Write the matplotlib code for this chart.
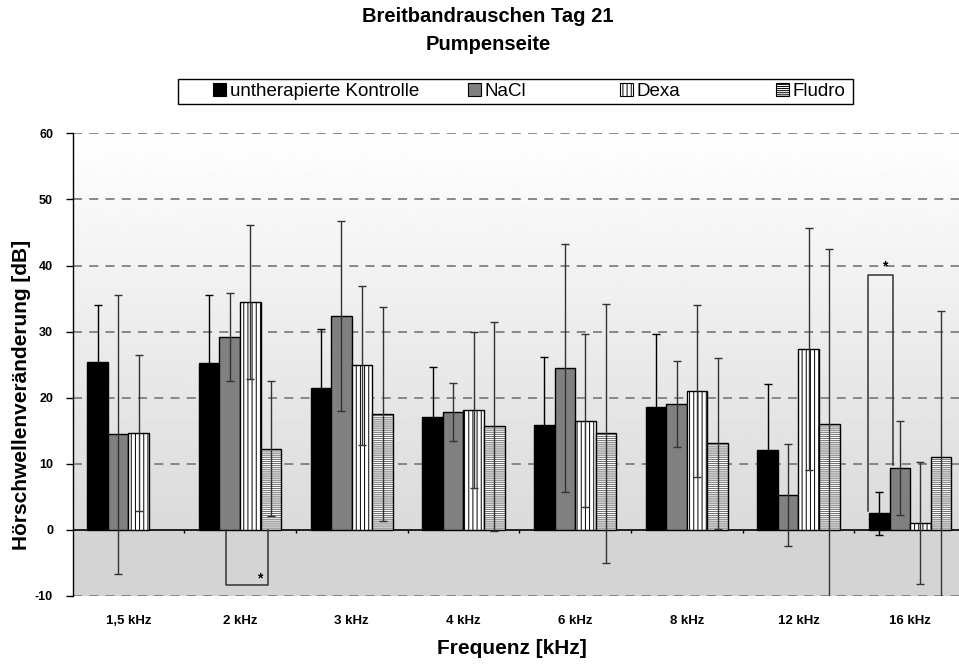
import numpy as np
import matplotlib
matplotlib.use("Agg")
import matplotlib.pyplot as plt
from matplotlib.patches import Patch, Rectangle

plt.rcParams['font.family'] = ['Liberation Sans', 'DejaVu Sans']
plt.rcParams['hatch.linewidth'] = 0.7
plt.rcParams['axes.unicode_minus'] = False

# Daten
categories = ["1,5 kHz", "2 kHz", "3 kHz", "4 kHz", "6 kHz", "8 kHz", "12 kHz", "16 kHz"]
series_names = ["untherapierte Kontrolle", "NaCl", "Dexa", "Fludro"]

kontrolle = [25.4, 25.2, 21.5, 17.1, 15.8, 18.6, 12.1, 2.5]
kontrolle_sd = [8.6, 10.4, 8.9, 7.6, 10.4, 11.0, 10.0, 3.3]
nacl = [14.5, 29.2, 32.4, 17.8, 24.5, 19.0, 5.25, 9.3]
nacl_sd = [21.1, 6.7, 14.4, 4.4, 18.7, 6.5, 7.75, 7.1]
dexa = [14.6, 34.5, 24.9, 18.2, 16.5, 21.0, 27.4, 1.0]
dexa_sd = [11.8, 11.7, 12.0, 11.8, 13.1, 13.0, 18.3, 9.25]
fludro = [np.nan, 12.3, 17.5, 15.7, 14.6, 13.1, 16.0, 11.1]
fludro_sd = [np.nan, 10.2, 16.2, 15.8, 19.6, 12.9, 26.5, 22.0]

# Signifikanz-Klammern: (Gruppe, x-Versatz links, x-Versatz rechts, y links, y rechts, y Klammer)
brackets = [(1, -0.127, 0.249, 0.0, 0.0, -8.4),
            (7, -0.373, -0.155, 2.9, 9.8, 38.5)]

values = [kontrolle, nacl, dexa, fludro]
sds = [kontrolle_sd, nacl_sd, dexa_sd, fludro_sd]
faces = ["black", "#808080", "white", "white"]
hatches = [None, None, "||||", "--------"]
hatch_cols = ["black", "black", "black", "#6a6a6a"]
err_cols = ["black", "#333333", "#333333", "#333333"]

fig = plt.figure(figsize=(9.59, 6.64), dpi=100)
ax = fig.add_axes([72.5/959, 68/664, (966-72.5)/959, (596-133.3)/664])

x = np.arange(len(categories))
w = 0.184

# Hintergrund-Verlauf
grad = np.linspace(0.998, 0.855, 256).reshape(-1, 1)
ax.imshow(grad, extent=(-0.5, 7.5, 0, 60), aspect='auto', cmap='gray',
          vmin=0, vmax=1, zorder=0)
ax.axhspan(-10, 0, color='#d4d4d4', zorder=0, lw=0)

for i in range(4):
    pos = x + (i - 1.5) * w
    # Fuellung + Schraffur, dann schwarzer Rand
    ax.bar(pos, values[i], width=w, color=faces[i], edgecolor=hatch_cols[i],
           linewidth=0, hatch=hatches[i], zorder=3)
    ax.bar(pos, values[i], width=w, color='none', edgecolor='black',
           linewidth=1, zorder=3)
    ax.errorbar(pos, values[i], yerr=sds[i], fmt='none', ecolor=err_cols[i],
                elinewidth=1, capsize=3, capthick=1, zorder=4)

for g, dl, dr, yl, yr, yb in brackets:
    ax.plot([g + dl, g + dl, g + dr, g + dr], [yl, yb, yb, yr],
            color='#333333', lw=1.1, zorder=5)
    ax.text(g + dr - 0.07, yb + (1.3 if yb > 0 else 1.1), "*", ha='center',
            va='center', fontsize=10, fontweight='bold', zorder=6)

ax.set_xlim(-0.5, 7.5)
ax.set_ylim(-10, 60)
ax.set_yticks(range(-10, 61, 10))
for yv in range(-10, 61, 10):
    if yv != 0:
        ax.axhline(yv, color='#7f7f7f', lw=1.3, ls=(0, (5, 4)), zorder=1)
ax.axhline(0, color='black', lw=1.2, zorder=2)
ax.vlines(x[:-1] + 0.5, -0.5, 0, color='black', lw=1, zorder=2)

ax.set_xticks(x)
ax.set_xticklabels(categories, fontsize=9.5, fontweight='bold')
ax.tick_params(axis='x', length=0, pad=14)
ax.tick_params(axis='y', length=5, width=1, labelsize=9, pad=9)
for lab in ax.get_yticklabels():
    lab.set_fontweight('bold')
for s in ['top', 'right', 'bottom']:
    ax.spines[s].set_visible(False)
ax.spines['left'].set_linewidth(1)

fig.text(488/959, 1 - 17/664, "Breitbandrauschen Tag 21", ha='center', va='center',
         fontsize=14.5, fontweight='bold')
fig.text(488/959, 1 - 45/664, "Pumpenseite", ha='center', va='center',
         fontsize=14.5, fontweight='bold')
fig.text(22/959, 1 - 395/664, "Hörschwellenveränderung [dB]", rotation=90,
         ha='center', va='center', fontsize=15, fontweight='bold')
fig.text(512/959, 1 - 648/664, "Frequenz [kHz]", ha='center', va='center',
         fontsize=15, fontweight='bold')

# Legende: Rahmen + einzelne Eintraege
fig.patches.append(Rectangle((178/959, 1 - 104/664), 675/959, 25/664,
                             transform=fig.transFigure, facecolor='white',
                             edgecolor='black', lw=1, zorder=0))
leg_x = [213, 468, 620, 776]
for i in range(4):
    h = Patch(facecolor=faces[i], edgecolor='black', hatch=hatches[i], lw=0.8)
    lg = fig.legend([h], [series_names[i]], loc='center left',
                    bbox_to_anchor=(leg_x[i]/959, 1 - 91.5/664), fontsize=13.5,
                    frameon=False, handlelength=0.7, handleheight=0.7,
                    handletextpad=0.2, borderpad=0, borderaxespad=0)

fig.savefig("out.png", dpi=100)
